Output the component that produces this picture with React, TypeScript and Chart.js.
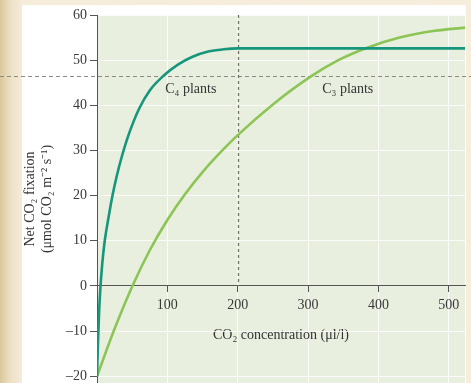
import React, { useEffect, useRef } from "react";
import { Chart, registerables } from "chart.js";

Chart.register(...registerables);

// ---- data ----
const c4X = [0, 1.5, 3.2, 5, 7.5, 11, 16, 22, 28, 35, 45, 60, 75, 95, 115, 135, 158, 180, 200, 523];
const c4Y = [-20, -12, -5, 0, 5, 10, 14.8, 20, 24.3, 28.5, 33.5, 39.3, 43.3, 46.6, 49, 50.7, 51.9, 52.4, 52.6, 52.6];

const c3X = [0, 25, 51, 75, 100, 125, 150, 175, 200, 250, 303, 343, 383, 430, 480, 523];
const c3Y = [-20, -9.5, 0.2, 7.9, 14.6, 20.3, 25.2, 29.5, 33.4, 40.2, 46.3, 50.0, 52.7, 55.0, 56.5, 57.2];

const xTickValues = [100, 200, 300, 400, 500];
const yTickValues = [-20, -10, 0, 10, 20, 30, 40, 50, 60];
const xRange = [0, 523];
const yRange = [-21.5, 60];

const dividerX = 200;
const referenceY = 46.6;

const curveLabels = ["C₄ plants", "C₃ plants"];
const curveLabelX = [97, 320];
const curveLabelY = [43.6, 43.6];

const yTitle = ["Net CO₂ fixation", "(μmol CO₂ m⁻² s⁻¹)"];
const xTitle = "CO₂ concentration (μl/l)";

const SERIF = "'Liberation Serif', 'Times New Roman', serif";

const decorPlugin = {
  id: "decor",
  beforeDraw(chart: any) {
    const { ctx, chartArea: a } = chart;
    ctx.save();
    ctx.fillStyle = "#e8efdf";
    ctx.fillRect(a.left, a.top, a.right - a.left, a.bottom - a.top);
    ctx.restore();
  },
  beforeDatasetsDraw(chart: any) {
    const { ctx, chartArea: a, scales } = chart;
    const xs = scales.x;
    const ys = scales.y;
    ctx.save();
    ctx.strokeStyle = "#8a8a86";
    ctx.lineWidth = 1;
    ctx.setLineDash([4, 3]);
    const hy = Math.round(ys.getPixelForValue(referenceY)) + 0.5;
    ctx.beginPath();
    ctx.moveTo(0, hy);
    ctx.lineTo(chart.width, hy);
    ctx.stroke();
    ctx.strokeStyle = "#6f6f6c";
    ctx.lineWidth = 1.3;
    ctx.setLineDash([3, 3]);
    const vx = Math.round(xs.getPixelForValue(dividerX)) + 0.5;
    ctx.beginPath();
    ctx.moveTo(vx, a.top);
    ctx.lineTo(vx, ys.getPixelForValue(0));
    ctx.stroke();
    ctx.restore();
  },
  afterDatasetsDraw(chart: any) {
    const { ctx, scales } = chart;
    ctx.save();
    ctx.fillStyle = "#333";
    ctx.font = `14px ${SERIF}`;
    ctx.textAlign = "left";
    ctx.textBaseline = "middle";
    curveLabels.forEach((t, i) => {
      ctx.fillText(t, scales.x.getPixelForValue(curveLabelX[i]), scales.y.getPixelForValue(curveLabelY[i]));
    });
    ctx.restore();
  },
};

export default function App() {
  const ref = useRef<HTMLCanvasElement | null>(null);

  useEffect(() => {
    if (!ref.current) return;
    const chart = new Chart(ref.current, {
      type: "line",
      data: {
        datasets: [
          {
            label: "C4",
            data: c4X.map((x, i) => ({ x, y: c4Y[i] })),
            borderColor: "#16967a",
            borderWidth: 2.6,
            pointRadius: 0,
            fill: false,
            cubicInterpolationMode: "monotone",
          },
          {
            label: "C3",
            data: c3X.map((x, i) => ({ x, y: c3Y[i] })),
            borderColor: "#8cc556",
            borderWidth: 2.6,
            pointRadius: 0,
            fill: false,
            cubicInterpolationMode: "monotone",
          },
        ],
      },
      options: {
        responsive: false,
        animation: false,
        devicePixelRatio: 1,
        layout: { padding: { top: 15, right: 6, bottom: 0, left: 0 } },
        plugins: { legend: { display: false }, tooltip: { enabled: false } },
        scales: {
          x: {
            type: "linear",
            position: { y: 0 },
            min: xRange[0],
            max: xRange[1],
            afterBuildTicks: (s: any) => {
              s.ticks = xTickValues.map((v) => ({ value: v }));
            },
            afterFit: (s: any) => {
              s.height = 0;
              s.paddingLeft = 0;
              s.paddingRight = 0;
            },
            grid: {
              color: "rgba(255,255,255,0.8)",
              lineWidth: 1,
              tickColor: "#555",
              tickLength: 6,
              tickWidth: 1,
            },
            border: { display: true, color: "#555", width: 1 },
            ticks: {
              autoSkip: false,
              maxRotation: 0,
              padding: 5,
              color: "#3a3a3a",
              font: { family: SERIF, size: 14 },
            },
            title: {
              display: true,
              text: xTitle,
              color: "#333",
              font: { family: SERIF, size: 14 },
              padding: { top: 0, bottom: -58 },
            },
          },
          y: {
            type: "linear",
            position: "left",
            min: yRange[0],
            max: yRange[1],
            afterBuildTicks: (s: any) => {
              s.ticks = yTickValues.map((v) => ({ value: v }));
            },
            afterFit: (s: any) => {
              s.width = 97;
              s.paddingTop = 0;
              s.paddingBottom = 0;
            },
            grid: {
              color: "rgba(255,255,255,0.8)",
              lineWidth: 1,
              tickColor: "#555",
              tickLength: 7,
              tickWidth: 1,
            },
            border: { display: true, color: "#555", width: 1 },
            ticks: {
              autoSkip: false,
              padding: 3,
              color: "#3a3a3a",
              font: { family: SERIF, size: 14 },
              callback: (v: any) => String(v).replace("-", "–"),
            },
            title: {
              display: true,
              text: yTitle,
              color: "#333",
              font: { family: SERIF, size: 14 },
              padding: { top: 22, bottom: 0 },
            },
          },
        },
      },
      plugins: [decorPlugin],
    } as any);
    return () => chart.destroy();
  }, []);

  return (
    <div
      style={{
        position: "absolute",
        left: 0,
        top: 0,
        width: 471,
        height: 383,
        overflow: "hidden",
        background: "linear-gradient(to right, #dac79c 0px, #ecdfc2 10px, #f5ecda 22px, #f6eddc 100%)",
      }}
    >
      <div
        style={{
          position: "absolute",
          left: 22,
          top: 5,
          width: 444,
          height: 378,
          background: "#ffffff",
        }}
      />
      <canvas
        ref={ref}
        width={471}
        height={383}
        style={{ position: "absolute", left: 0, top: 0, width: 471, height: 383 }}
      />
    </div>
  );
}
